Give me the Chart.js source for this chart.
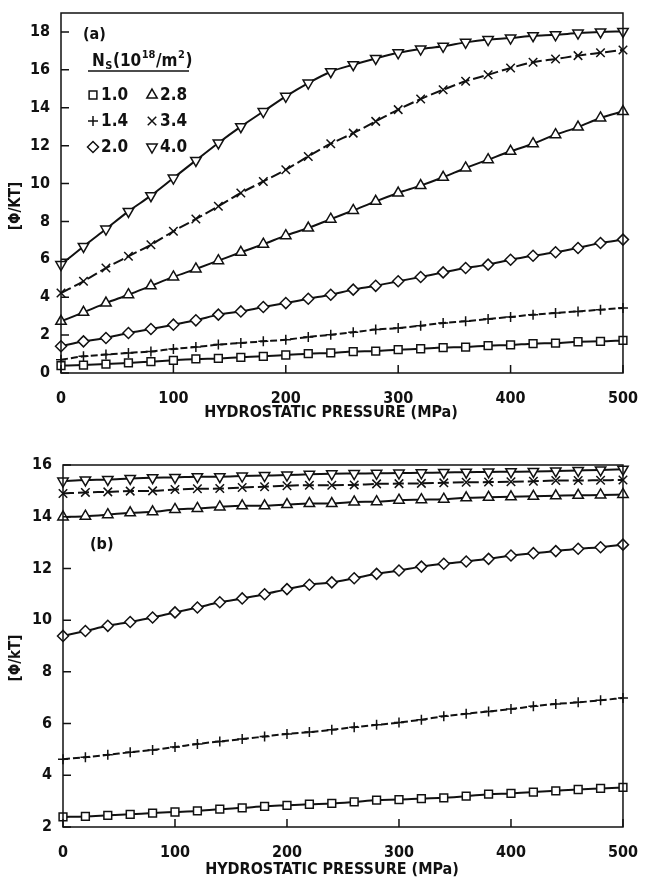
<!DOCTYPE html>
<html>
<head>
<meta charset="utf-8">
<script src="https://cdn.jsdelivr.net/npm/chart.js@4/dist/chart.umd.min.js"></script>
<style>
body { margin: 0; background: #fff; }
#wrapA { position: absolute; left: 0; top: 0; width: 646px; height: 430px; }
#wrapB { position: absolute; left: 0; top: 430px; width: 646px; height: 449px; }
</style>
</head>
<body>
<div id="wrapA"><canvas id="graph_a" width="646" height="430"></canvas></div>
<div id="wrapB"><canvas id="graph_b" width="646" height="449"></canvas></div>
<script>
'use strict';

// x values (MPa)
const pressure = [0, 20, 40, 60, 80, 100, 120, 140, 160, 180, 200, 220, 240, 260, 280, 300, 320, 340, 360, 380, 400, 420, 440, 460, 480, 500];
const nsLabels = ['1.0', '1.4', '2.0', '2.8', '3.4', '4.0'];

// panel (a)
const a10 = [0.39, 0.42, 0.47, 0.53, 0.60, 0.67, 0.74, 0.77, 0.83, 0.88, 0.95, 1.02, 1.06, 1.13, 1.16, 1.23, 1.28, 1.34, 1.37, 1.44, 1.48, 1.55, 1.58, 1.65, 1.67, 1.72];
const a14 = [0.70, 0.88, 0.97, 1.06, 1.14, 1.27, 1.37, 1.50, 1.58, 1.67, 1.76, 1.90, 2.02, 2.15, 2.29, 2.37, 2.50, 2.64, 2.73, 2.85, 2.96, 3.08, 3.17, 3.25, 3.34, 3.43];
const a20 = [1.41, 1.67, 1.85, 2.11, 2.32, 2.55, 2.78, 3.08, 3.25, 3.48, 3.69, 3.92, 4.13, 4.40, 4.60, 4.84, 5.07, 5.31, 5.54, 5.72, 5.98, 6.19, 6.37, 6.60, 6.86, 7.04];
const a28 = [2.73, 3.20, 3.69, 4.13, 4.60, 5.07, 5.49, 5.93, 6.37, 6.80, 7.25, 7.65, 8.12, 8.58, 9.06, 9.50, 9.89, 10.33, 10.82, 11.26, 11.70, 12.10, 12.58, 12.98, 13.46, 13.80];
const a34 = [4.22, 4.84, 5.54, 6.16, 6.77, 7.48, 8.13, 8.80, 9.50, 10.11, 10.73, 11.43, 12.10, 12.66, 13.28, 13.90, 14.46, 14.95, 15.40, 15.74, 16.10, 16.40, 16.57, 16.75, 16.90, 17.05];
const a40 = [5.72, 6.68, 7.60, 8.53, 9.36, 10.29, 11.22, 12.14, 13.00, 13.80, 14.60, 15.30, 15.90, 16.27, 16.60, 16.90, 17.10, 17.24, 17.45, 17.60, 17.68, 17.80, 17.85, 17.94, 18.00, 18.03];

// panel (b)
const b10 = [2.39, 2.41, 2.45, 2.49, 2.54, 2.58, 2.62, 2.69, 2.74, 2.80, 2.84, 2.88, 2.91, 2.97, 3.04, 3.06, 3.10, 3.13, 3.19, 3.27, 3.30, 3.35, 3.40, 3.45, 3.49, 3.53];
const b14 = [4.62, 4.70, 4.79, 4.89, 4.98, 5.09, 5.21, 5.31, 5.40, 5.50, 5.60, 5.67, 5.76, 5.86, 5.95, 6.04, 6.15, 6.28, 6.38, 6.47, 6.56, 6.67, 6.76, 6.82, 6.90, 6.99];
const b20 = [9.39, 9.58, 9.78, 9.93, 10.10, 10.30, 10.49, 10.69, 10.84, 11.00, 11.20, 11.37, 11.46, 11.62, 11.79, 11.92, 12.07, 12.18, 12.27, 12.37, 12.50, 12.59, 12.67, 12.76, 12.82, 12.92];
const b28 = [13.99, 14.02, 14.08, 14.15, 14.19, 14.28, 14.32, 14.38, 14.42, 14.42, 14.47, 14.51, 14.51, 14.57, 14.58, 14.64, 14.66, 14.68, 14.73, 14.75, 14.77, 14.79, 14.81, 14.83, 14.84, 14.86];
const b34 = [14.90, 14.94, 14.96, 14.99, 15.00, 15.05, 15.08, 15.09, 15.13, 15.16, 15.20, 15.22, 15.22, 15.23, 15.27, 15.28, 15.29, 15.31, 15.33, 15.34, 15.35, 15.37, 15.40, 15.40, 15.41, 15.42];
const b40 = [15.38, 15.42, 15.44, 15.48, 15.51, 15.52, 15.55, 15.55, 15.57, 15.59, 15.61, 15.64, 15.66, 15.67, 15.68, 15.69, 15.70, 15.71, 15.72, 15.73, 15.74, 15.75, 15.77, 15.79, 15.81, 15.84];

const INK = '#111';
const FONT = "'Liberation Sans Narrow', 'DejaVu Sans Condensed', sans-serif";

// marker + line style per Ns
const looks = [
    { style: 'rect', rot: 0, r: 5.5, dash: [] },
    { style: 'cross', rot: 0, r: 5, dash: [7, 3] },
    { style: 'rectRot', rot: 0, r: 5.5, dash: [] },
    { style: 'triangle', rot: 0, r: 6, dash: [] },
    { style: 'crossRot', rot: 0, r: 6, dash: [11, 4] },
    { style: 'triangle', rot: 180, r: 6, dash: [] }
];

function makeSets(values) {
    return values.map((v, i) => ({
        label: nsLabels[i],
        data: pressure.map((p, j) => ({ x: p, y: v[j] })),
        borderColor: INK,
        borderWidth: 2,
        borderDash: looks[i].dash,
        pointStyle: looks[i].style,
        pointRotation: looks[i].rot,
        pointRadius: looks[i].r,
        pointBackgroundColor: '#fff',
        pointBorderColor: INK,
        pointBorderWidth: 1.5,
        cubicInterpolationMode: 'monotone',
        clip: false
    }));
}

function makeScales(ymin, ymax, yw, xh) {
    let tickFont = { family: FONT, size: 16, weight: 'bold' };
    return {
        x: {
            type: 'linear', min: 0, max: 500,
            grid: { display: false }, border: { display: false },
            ticks: { stepSize: 100, padding: 8, color: INK, font: tickFont, maxRotation: 0 },
            afterFit: s => { s.height = xh; }
        },
        y: {
            min: ymin, max: ymax,
            grid: { display: false }, border: { display: false },
            ticks: { stepSize: 2, includeBounds: false, padding: 3, color: INK, font: tickFont },
            afterFit: s => { s.width = yw; }
        }
    };
}

// frame, inward ticks, titles, panel legend
const deco = {
    id: 'deco',
    afterDraw(chart, args, o) {
        let ctx = chart.ctx;
        let a = chart.chartArea;
        let xs = chart.scales.x, ys = chart.scales.y;
        ctx.save();
        ctx.strokeStyle = INK;
        ctx.lineWidth = 1.5;
        ctx.strokeRect(a.left, a.top, a.right - a.left, a.bottom - a.top);
        ctx.beginPath();
        xs.ticks.forEach(t => {
            let px = xs.getPixelForValue(t.value);
            ctx.moveTo(px, a.bottom);
            ctx.lineTo(px, a.bottom - 8);
        });
        ys.ticks.forEach(t => {
            let py = ys.getPixelForValue(t.value);
            ctx.moveTo(a.left, py);
            ctx.lineTo(a.left + 8, py);
        });
        ctx.stroke();

        ctx.fillStyle = INK;
        ctx.textBaseline = 'middle';
        ctx.textAlign = 'center';
        ctx.font = 'bold 16px ' + FONT;
        ctx.fillText(o.xTitle, o.xTitleX, o.xTitleY);
        ctx.save();
        ctx.translate(o.yTitleX, o.yTitleY);
        ctx.rotate(-Math.PI / 2);
        ctx.font = 'bold 15px ' + FONT;
        ctx.fillText(o.yTitle, 0, 0);
        ctx.restore();

        ctx.textAlign = 'left';
        ctx.font = 'bold 16px ' + FONT;
        ctx.fillText(o.panel, o.panelX, o.panelY);

        if (o.legend) drawLegend(ctx);
        ctx.restore();
    }
};

function drawLegend(ctx) {
    // heading  N_S(10^18/m^2)
    let x = 92, y = 62;
    let big = 'bold 17px ' + FONT, small = 'bold 11px ' + FONT;
    let parts = [['N', big, 0], ['S', small, 4], ['(10', big, 0], ['18', small, -7], ['/m', big, 0], ['2', small, -7], [')', big, 0]];
    parts.forEach(p => {
        ctx.font = p[1];
        ctx.fillText(p[0], x, y + p[2]);
        x += ctx.measureText(p[0]).width + 0.5;
    });
    ctx.beginPath();
    ctx.lineWidth = 1.5;
    ctx.moveTo(88, 71);
    ctx.lineTo(189, 71);
    ctx.stroke();

    let cols = [93, 152];
    let rows = [95, 121, 147];
    ctx.font = 'bold 17px ' + FONT;
    nsLabels.forEach((lab, i) => {
        let cx = cols[Math.floor(i / 3)];
        let cy = rows[i % 3];
        ctx.fillStyle = '#fff';
        ctx.strokeStyle = INK;
        ctx.lineWidth = 1.5;
        Chart.helpers.drawPoint(ctx, {
            pointStyle: looks[i].style, rotation: looks[i].rot,
            radius: looks[i].r, borderWidth: 1.5
        }, cx, cy);
        ctx.fillStyle = INK;
        ctx.fillText(lab, cx + 8, cy + 1);
    });
}

window.onload = function () {
    new Chart(document.querySelector('#graph_a').getContext('2d'), {
        type: 'line',
        data: { datasets: makeSets([a10, a14, a20, a28, a34, a40]) },
        options: {
            responsive: false,
            animation: false,
            layout: { padding: { top: 13, right: 15, left: 0, bottom: 0 } },
            scales: makeScales(0, 19, 61, 57),
            plugins: {
                legend: { display: false },
                tooltip: { enabled: false },
                deco: {
                    xTitle: 'HYDROSTATIC PRESSURE (MPa)', xTitleX: 331, xTitleY: 413,
                    yTitle: '[Φ/KT]', yTitleX: 16, yTitleY: 206,
                    panel: '(a)', panelX: 83, panelY: 35,
                    legend: true
                }
            }
        },
        plugins: [deco]
    });

    new Chart(document.querySelector('#graph_b').getContext('2d'), {
        type: 'line',
        data: { datasets: makeSets([b10, b14, b20, b28, b34, b40]) },
        options: {
            responsive: false,
            animation: false,
            layout: { padding: { top: 35, right: 13, left: 0, bottom: 0 } },
            scales: makeScales(2, 16, 63, 52),
            plugins: {
                legend: { display: false },
                tooltip: { enabled: false },
                deco: {
                    xTitle: 'HYDROSTATIC PRESSURE (MPa)', xTitleX: 332, xTitleY: 440,
                    yTitle: '[Φ/kT]', yTitleX: 16, yTitleY: 228,
                    panel: '(b)', panelX: 90, panelY: 115,
                    legend: false
                }
            }
        },
        plugins: [deco]
    });
};
</script>
</body>
</html>
